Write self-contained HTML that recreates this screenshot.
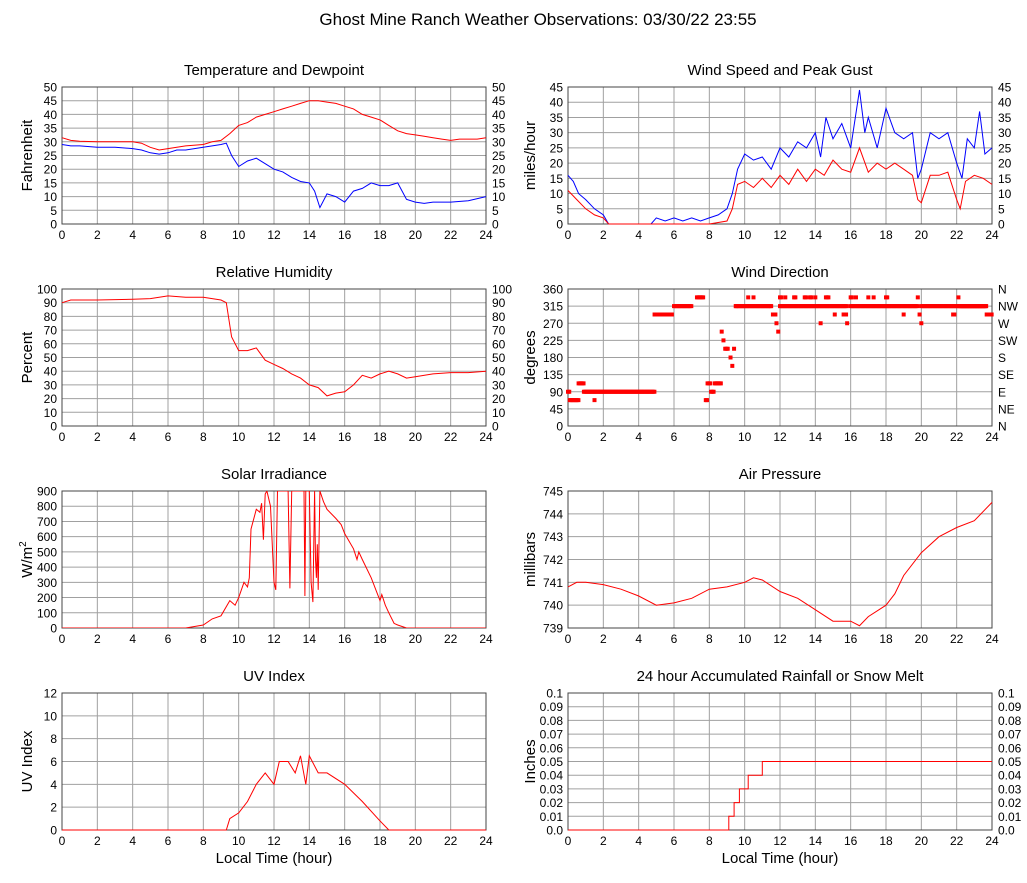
<!DOCTYPE html>
<html><head><meta charset="utf-8">
<style>
body{margin:0;background:#fff;}
svg text{font-family:"Liberation Sans",sans-serif;fill:#000;}
</style></head>
<body>
<svg id="c" width="1027" height="878" xmlns="http://www.w3.org/2000/svg">
<text x="538" y="25" font-size="17" text-anchor="middle">Ghost Mine Ranch Weather Observations: 03/30/22 23:55</text>
</svg>
<script>
const tempT=[0,0.5,1,2,3,4,4.5,5,5.5,6,6.5,7,8,8.5,9,9.5,10,10.5,11,11.5,12,12.5,13,13.5,14,14.5,15,15.5,16,16.5,17,17.5,18,18.5,19,19.5,20,20.5,21,21.5,22,22.5,23,23.5,24];
const tempV=[31.5,30.5,30.2,30,30,30,29.5,28,27,27.5,28,28.5,29,30,30.5,33,36,37,39,40,41,42,43,44,45,45,44.5,44,43,42,40,39,38,36,34,33,32.5,32,31.5,31,30.5,31,31,31,31.5];
const dewT=[0,0.5,1,2,3,4,4.5,5,5.5,6,6.5,7,8,8.5,9,9.3,9.6,10,10.5,11,11.5,12,12.5,13,13.5,14,14.3,14.6,15,15.5,16,16.5,17,17.5,18,18.5,19,19.5,20,20.5,21,22,23,24];
const dewV=[29,28.5,28.5,28,28,27.5,27,26,25.5,26,27,27,28,28.5,29,29.5,25,21,23,24,22,20,19,17,15.5,15,12,6,11,10,8,12,13,15,14,14,15,9,8,7.5,8,8,8.5,10];
const gustT=[0,0.3,0.6,1,1.5,2,2.3,3,4,4.7,5,5.5,6,6.5,7,7.5,8,8.5,9,9.3,9.6,10,10.5,11,11.5,12,12.5,13,13.5,14,14.3,14.6,15,15.5,16,16.5,16.8,17,17.5,18,18.5,19,19.5,19.8,20,20.5,21,21.5,22,22.3,22.6,23,23.3,23.6,24];
const gustV=[16,14,10,8,5,3,0,0,0,0,2,1,2,1,2,1,2,3,5,10,18,23,21,22,18,25,22,27,25,30,22,35,28,33,25,44,30,35,25,38,30,28,30,15,18,30,28,30,20,15,28,25,37,23,25];
const windT=[0,0.5,1,1.5,2,2.3,3,4,5,6,7,8,9,9.3,9.6,10,10.5,11,11.5,12,12.5,13,13.5,14,14.5,15,15.5,16,16.5,17,17.5,18,18.5,19,19.5,19.8,20,20.5,21,21.5,22,22.2,22.5,23,23.5,24];
const windV=[11,8,5,3,2,0,0,0,0,0,0,0,1,5,13,14,12,15,12,16,13,18,14,18,16,21,18,17,25,17,20,18,20,18,16,8,7,16,16,17,8,5,14,16,15,13];
const rhT=[0,0.5,2,4,5,6,7,8,9,9.3,9.6,10,10.5,11,11.5,12,12.5,13,13.5,14,14.5,15,15.5,16,16.5,17,17.5,18,18.5,19,19.5,20,21,22,23,24];
const rhV=[90,92,92,92.5,93,95,94,94,92,90,65,55,55,57,48,45,42,38,35,30,28,22,24,25,30,37,35,38,40,38,35,36,38,39,39,40];
const dirStart=[0,0.1,0.6,0.9,1.5,4.9,6,7.3,7.8,7.9,8.1,8.3,8.7,8.8,8.9,9.2,9.3,9.4,9.5,10.2,10.5,11.5,11.6,11.8,11.9,12,12.3,12.8,13.4,13.7,14,14.3,14.6,15.1,15.6,15.8,16,16.3,17,17.3,18,19,19.8,19.9,20,21.8,22.1,22.2,23.7];
const dirEnd=[0.1,0.6,0.9,4.9,1.5,5.9,7,7.7,7.9,8.1,8.3,8.7,8.7,8.8,9.1,9.2,9.3,9.4,9.5,10.2,10.5,11.5,11.8,11.8,11.9,12.1,12.3,12.9,13.5,13.8,14,14.3,14.8,15.1,15.8,15.8,16.1,16.3,17,17.3,18.1,19,19.8,19.9,20,21.9,22.1,23.7,24];
const dirVal=[90,68,112,90,68,293,315,338,68,112,90,112,248,225,203,180,158,203,315,338,338,315,293,270,248,338,338,338,338,338,338,270,338,293,293,270,338,338,338,338,338,293,338,293,270,293,338,315,293];
const dirFillStart=[9.5,12,16,20];
const dirFillEnd=[11.5,15.8,19.8,23.7];
const solarT=[0,7,7.5,8,8.5,9,9.5,9.8,10,10.3,10.5,10.6,10.7,11,11.2,11.3,11.4,11.5,11.6,11.8,12,12.1,12.2,12.5,12.8,12.9,13,13.7,13.75,13.8,14,14.1,14.2,14.3,14.35,14.4,14.45,14.5,14.6,14.8,15,15.5,15.8,16,16.5,16.7,16.8,17,17.5,18,18.1,18.3,18.5,18.8,19,19.5,24];
const solarV=[0,0,10,20,60,80,180,150,200,300,270,330,650,780,760,820,580,880,900,800,300,250,900,900,900,260,900,900,210,900,900,300,170,900,450,330,550,250,900,830,780,720,680,620,520,450,500,450,330,180,220,150,100,30,20,0,0];
const presT=[0,0.5,1,2,3,4,5,6,7,8,9,10,10.5,11,12,13,14,15,16,16.5,17,18,18.5,19,20,21,22,23,24];
const presV=[740.8,741,741,740.9,740.7,740.4,740,740.1,740.3,740.7,740.8,741,741.2,741.1,740.6,740.3,739.8,739.3,739.3,739.1,739.5,740,740.5,741.3,742.3,743,743.4,743.7,744.5];
const uvT=[0,9.3,9.5,10,10.5,11,11.5,12,12.3,12.8,13.2,13.5,13.8,14,14.5,15,16,17,18,18.5,24];
const uvV=[0,0,1,1.5,2.5,4,5,4,6,6,5,6.5,4,6.5,5,5,4,2.5,0.8,0,0];
const rainT=[0,9.1,9.1,9.4,9.4,9.7,9.7,10.2,10.2,11,11,24];
const rainV=[0,0,0.01,0.01,0.02,0.02,0.03,0.03,0.04,0.04,0.05,0.05];
const xTicks=[0,2,4,6,8,10,12,14,16,18,20,22,24];

const svg=document.getElementById('c');
const NS='http://www.w3.org/2000/svg';
function mk(tag,attrs,parent){const e=document.createElementNS(NS,tag);for(const k in attrs)e.setAttribute(k,attrs[k]);(parent||svg).appendChild(e);return e;}
function txt(s,attrs,parent){const e=mk('text',attrs,parent);e.textContent=s;return e;}
const panels=[];
function panel(name,title,col,row,ymin,ymax,ystep,ylabel,right,decimals,xlabel){
  const L=col?568:62,R=col?992:486,T=87+row*202,B=T+137;
  const g=mk('g',{});
  
  
  const sx=v=>L+(v/24)*(R-L), sy=v=>B-(v-ymin)/(ymax-ymin)*(B-T);
  const t=txt(title,{x:(L+R)/2,y:T-12,'font-size':15,'text-anchor':'middle'},g);
  
  const n=Math.round((ymax-ymin)/ystep);
  for(let i=0;i<=n;i++){const v=ymin+i*ystep,y=sy(v);
    mk('line',{x1:L,x2:R,y1:y,y2:y,stroke:'#a0a0a0','stroke-width':1},g);
    const lab=(name==='rain'&&i===n)?'0.1':(name==='rain'&&i===0)?'0.0':v.toFixed(decimals);
    const tl=txt(lab,{x:L-5,y:y+4.5,'font-size':12,'text-anchor':'end'},g);
    
    if(right){const rl=txt(Array.isArray(right)?right[i]:lab,{x:R+6,y:y+4.5,'font-size':12},g);
      }
  }
  xTicks.forEach(v=>{const x=sx(v);mk('line',{x1:x,x2:x,y1:T,y2:B,stroke:'#a0a0a0','stroke-width':1},g);
    const xl=txt(String(v),{x:x,y:B+15,'font-size':12,'text-anchor':'middle'},g);
    });
  mk('rect',{x:L,y:T,width:R-L,height:B-T,fill:'none',stroke:'#444','stroke-width':1},g);
  const yt=txt('',{x:0,y:0,'font-size':15,'text-anchor':'middle',transform:`translate(${L-(col?33:30)},${(T+B)/2}) rotate(-90)`},g);
  
  if(ylabel==='W/m2'){yt.textContent='W/m';const s=mk('tspan',{dy:-6,'font-size':10},yt);s.textContent='2';}
  else yt.textContent=ylabel;
  if(xlabel){const xt=txt('Local Time (hour)',{x:(L+R)/2,y:B+33,'font-size':15,'text-anchor':'middle'},g);
    }
  return {g,sx,sy};
}
function line(p,ts,vs,color,name){
  const d=ts.map((t,i)=>(i?'L':'M')+p.sx(t).toFixed(1)+','+p.sy(vs[i]).toFixed(1)).join('');
  const e=mk('path',{d:d,fill:'none',stroke:color,'stroke-width':1},p.g);
  
  
}
const p1=panel('temperature','Temperature and Dewpoint',0,0,0,50,5,'Fahrenheit',true,0);
line(p1,tempT,tempV,'#ff0000','temperature-line');
line(p1,dewT,dewV,'#0000ff','dewpoint-line');
const p2=panel('wind-speed','Wind Speed and Peak Gust',1,0,0,45,5,'miles/hour',true,0);
line(p2,gustT,gustV,'#0000ff','gust-line');
line(p2,windT,windV,'#ff0000','wind-speed-line');
const p3=panel('humidity','Relative Humidity',0,1,0,100,10,'Percent',true,0);
line(p3,rhT,rhV,'#ff0000','humidity-line');
const p4=panel('wind-direction','Wind Direction',1,1,0,360,45,'degrees',['N','NE','E','SE','S','SW','W','NW','N'],0);
function dots(s,e,v){for(let t=s;t<=e+1e-6;t+=0.07){const r=mk('rect',{x:p4.sx(t)-2,y:p4.sy(v)-2,width:4,height:4,fill:'#ff0000'},p4.g);
  
  }}
dirFillStart.forEach((s,i)=>dots(s,dirFillEnd[i],315));
dirStart.forEach((s,i)=>dots(s,dirEnd[i],dirVal[i]));
const p5=panel('solar','Solar Irradiance',0,2,0,900,100,'W/m2',false,0);
const clip=mk('clipPath',{id:'sc'},svg);mk('rect',{x:62,y:491,width:424,height:137},clip);
const sg=mk('g',{'clip-path':'url(#sc)'},p5.g);
line({g:sg,sx:p5.sx,sy:p5.sy},solarT,solarV,'#ff0000','solar-line');
const p6=panel('pressure','Air Pressure',1,2,739,745,1,'millibars',false,0);
line(p6,presT,presV,'#ff0000','pressure-line');
const p7=panel('uv','UV Index',0,3,0,12,2,'UV Index',false,0,true);
line(p7,uvT,uvV,'#ff0000','uv-line');
const p8=panel('rain','24 hour Accumulated Rainfall or Snow Melt',1,3,0,0.1,0.01,'Inches',true,2,true);
line(p8,rainT,rainV,'#ff0000','rain-line');
</script>
</body></html>
